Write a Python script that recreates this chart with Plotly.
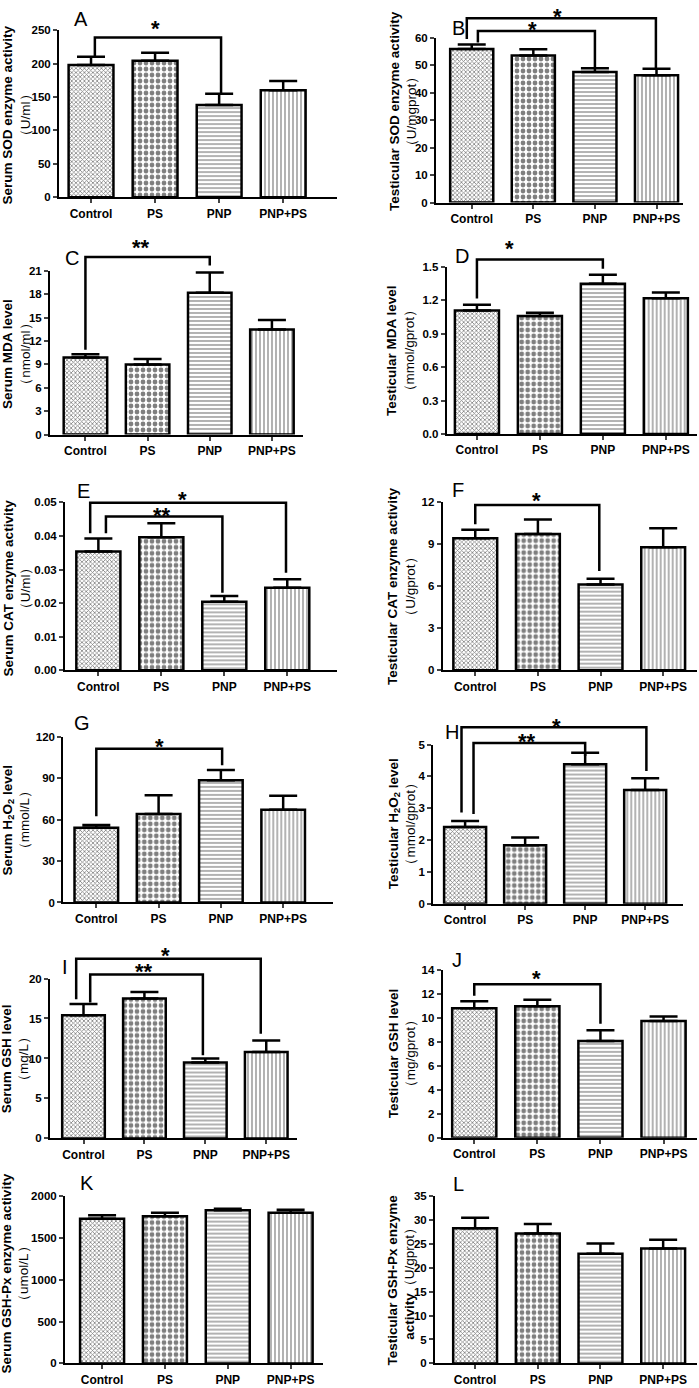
import plotly.graph_objects as go

W, H = 699, 1388
groups = ["Control", "PS", "PNP", "PNP+PS"]
xpos = [0, 1, 2, 3]

# ---- data: means and upper SEM for each panel ----
A_mean = [198, 204, 138, 160];           A_err = [12, 12, 17, 14]
B_mean = [56.0, 53.6, 47.6, 46.4];       B_err = [1.6, 2.3, 1.4, 2.4]
C_mean = [9.9, 9.0, 18.2, 13.5];         C_err = [0.4, 0.7, 2.6, 1.2]
D_mean = [1.11, 1.06, 1.35, 1.22];       D_err = [0.05, 0.03, 0.08, 0.05]
E_mean = [0.0354, 0.0396, 0.0204, 0.0246]; E_err = [0.0038, 0.0042, 0.0017, 0.0025]
F_mean = [9.4, 9.7, 6.1, 8.75];          F_err = [0.6, 1.03, 0.42, 1.36]
G_mean = [54.1, 64.2, 88.6, 67.3];       G_err = [2.1, 13.6, 7.4, 10.0]
H_mean = [2.41, 1.84, 4.38, 3.57];       H_err = [0.19, 0.24, 0.36, 0.37]
I_mean = [15.4, 17.5, 9.5, 10.8];        I_err = [1.4, 0.8, 0.5, 1.45]
J_mean = [10.8, 10.97, 8.07, 9.73];      J_err = [0.58, 0.55, 0.89, 0.39]
K_mean = [1725, 1755, 1825, 1795];       K_err = [42, 42, 18, 38]
L_mean = [28.2, 27.1, 22.9, 24.0];       L_err = [2.2, 2.0, 2.1, 1.8]

# y-axis titles (line 1, line 2)
titles = {
    "A": ("<b>Serum SOD enzyme activity</b>", "（U/ml）"),
    "B": ("<b>Testicular SOD enzyme activity</b>", "（U/mgprot）"),
    "C": ("<b>Serum MDA level</b>", "（nmol/ml）"),
    "D": ("<b>Testicular MDA level</b>", "（mmol/gprot）"),
    "E": ("<b>Serum CAT enzyme activity</b>", "（U/ml）"),
    "F": ("<b>Testicular CAT enzyme activity</b>", "（U/gprot）"),
    "G": ("<b>Serum H<sub>2</sub>O<sub>2</sub> level</b>", "（mmol/L）"),
    "H": ("<b>Testicular H<sub>2</sub>O<sub>2</sub> level</b>", "（mmol/gprot）"),
    "I": ("<b>Serum GSH level</b>", "（mg/L）"),
    "J": ("<b>Testicular GSH level</b>", "（mg/gprot）"),
    "K": ("<b>Serum GSH-Px enzyme activity</b>", "（umol/L）"),
    "L": ("<b>Testicular GSH-Px enzyme</b>", "<b>activity</b>（U/gprot）"),
}

# y-axis scale: max tick, tick step, format
yscale = {
    "A": (250, 50, "d"), "B": (60, 10, "d"), "C": (21, 3, "d"), "D": (1.5, 0.3, ".1f"),
    "E": (0.05, 0.01, ".2f"), "F": (12, 3, "d"), "G": (120, 30, "d"), "H": (5, 1, "d"),
    "I": (20, 5, "d"), "J": (14, 2, "d"), "K": (2000, 500, "d"), "L": (35, 5, "d"),
}

# significance brackets: (x_left, x_right, y_bar, y_left_end, y_right_end, label, label_x, label_y)
brackets = {
    "A": [(0.06, 2.03, 239, 210, 155, "*", 1.0, 260)],
    "B": [(-0.08, 2.99, 67.2, 59.6, 48.8, "*", 1.4, 69.5),
          (0.10, 2.0, 62.6, 58.4, 49.0, "*", 0.98, 65.1)],
    "C": [(0.0, 2.0, 22.78, 10.9, 21.7, "**", 0.9, 24.7)],
    "D": [(0.0, 2.0, 1.567, 1.217, 1.484, "*", 0.52, 1.707)],
    "E": [(-0.13, 2.98, 0.0499, 0.0408, 0.029, "*", 1.34, 0.0524),
          (0.12, 1.97, 0.0458, 0.0408, 0.0231, "**", 1.01, 0.0475)],
    "F": [(0.0, 1.98, 11.76, 10.4, 7.06, "*", 0.97, 12.42)],
    "G": [(0.0, 2.02, 111.4, 62.5, 99.4, "*", 1.02, 116.8)],
    "H": [(-0.06, 3.02, 5.54, 2.87, 4.17, "*", 1.52, 5.73),
          (0.14, 2.0, 5.05, 2.82, 4.64, "**", 1.03, 5.26)],
    "I": [(-0.12, 2.91, 22.48, 17.4, 13.1, "*", 1.35, 23.5),
          (0.11, 1.96, 20.5, 17.0, 10.4, "**", 1.0, 21.45)],
    "J": [(0.0, 2.0, 12.81, 11.85, 9.5, "*", 0.99, 13.7)],
    "K": [], "L": [],
}

means = {"A": A_mean, "B": B_mean, "C": C_mean, "D": D_mean, "E": E_mean, "F": F_mean,
         "G": G_mean, "H": H_mean, "I": I_mean, "J": J_mean, "K": K_mean, "L": L_mean}
errs = {"A": A_err, "B": B_err, "C": C_err, "D": D_err, "E": E_err, "F": F_err,
        "G": G_err, "H": H_err, "I": I_err, "J": J_err, "K": K_err, "L": L_err}

# ---- layout geometry (pixels) ----
geom = {
    "A": dict(L=59, R=337, yb=193, yt=24.3, xr=[-0.5, 3.84]),
    "B": dict(L=436, R=683, yb=198.3, yt=32.3, xr=[-0.58, 3.43]),
    "C": dict(L=50, R=303, yb=432.3, yt=267.3, xr=[-0.57, 3.5]),
    "D": dict(L=446.7, R=696.7, yb=431.7, yt=263.3, xr=[-0.48, 3.49]),
    "E": dict(L=65, R=337, yb=670, yt=500.7, xr=[-0.53, 3.79]),
    "F": dict(L=442.7, R=697, yb=670, yt=500, xr=[-0.52, 3.54]),
    "G": dict(L=63.3, R=333, yb=904.3, yt=737.3, xr=[-0.53, 3.8]),
    "H": dict(L=433.3, R=683, yb=905.7, yt=745, xr=[-0.53, 3.63]),
    "I": dict(L=50, R=296.7, yb=1142.3, yt=981, xr=[-0.55, 3.5]),
    "J": dict(L=442.7, R=697, yb=1141.7, yt=972.3, xr=[-0.5, 3.53]),
    "K": dict(L=65, R=323.3, yb=1369.3, yt=1200, xr=[-0.59, 3.52]),
    "L": dict(L=435, R=697, yb=1369.3, yt=1200, xr=[-0.64, 3.54]),
}
letter_pos = {"A": (81, 13), "B": (458, 22), "C": (72, 254), "D": (462, 252),
              "E": (83, 489), "F": (458, 488), "G": (82, 723), "H": (452, 732),
              "I": (65, 969), "J": (457, 962), "K": (87, 1187), "L": (458, 1188)}
title_pos = {"A": (16.5, 110), "B": (403, 106), "C": (17, 351), "D": (401, 348),
             "E": (17, 587.5), "F": (402, 586), "G": (16.5, 822), "H": (402.5, 825),
             "I": (15.5, 1062), "J": (402.5, 1057), "K": (15.5, 1279), "L": (401.5, 1285)}

FONT = "Liberation Sans, Arial, sans-serif"
fig = go.Figure()
layout = dict(width=W, height=H, margin=dict(l=0, r=0, t=0, b=0),
              paper_bgcolor="white", plot_bgcolor="white", showlegend=False,
              font=dict(family=FONT, color="black"))
shapes, annots = [], []

for i, key in enumerate("ABCDEFGHIJKL"):
    n = "" if i == 0 else str(i + 1)
    xa, ya = "x" + n, "y" + n
    g = geom[key]
    ymax, dt, fmt = yscale[key]
    fig.add_trace(go.Bar(
        x=xpos, y=means[key], width=0.7, xaxis=xa, yaxis=ya,
        marker=dict(color="white", line=dict(color="black", width=2.5),
                    pattern=dict(shape=["x", ".", "-", "|"], size=[3, 6, 4, 4],
                                 solidity=[0.45, 0.5, 0.3, 0.3],
                                 fgcolor="black", bgcolor="white")),
        error_y=dict(type="data", symmetric=False, array=errs[key], arrayminus=[0, 0, 0, 0],
                     color="black", thickness=2.5, width=14),
    ))
    xtickfont = dict(family=FONT, size=12, color="black", weight="bold")
    ytickfont = dict(family=FONT, size=11.5, color="black", weight="bold")
    layout["xaxis" + n] = dict(domain=[g["L"] / W, g["R"] / W], range=g["xr"], anchor=ya,
                               tickvals=xpos, ticktext=groups, ticks="outside", ticklen=4,
                               tickwidth=2, showline=True, linewidth=2, linecolor="black",
                               showgrid=False, zeroline=False, tickfont=xtickfont, fixedrange=True)
    nt = int(round(ymax / dt))
    layout["yaxis" + n] = dict(domain=[1 - g["yb"] / H, 1 - g["yt"] / H], range=[0, ymax],
                               anchor=xa, tickvals=[dt * k for k in range(nt + 1)],
                               tickformat=fmt, ticks="outside", ticklen=4, tickwidth=2,
                               showline=True, linewidth=2, linecolor="black",
                               showgrid=False, zeroline=False, tickfont=ytickfont, fixedrange=True)
    for (x0, x1, yb, yl, yr, lab, lx, ly) in brackets[key]:
        shapes.append(dict(type="path", xref=xa, yref=ya + " domain",
                           path=f"M {x0},{yl / ymax} L {x0},{yb / ymax} L {x1},{yb / ymax} L {x1},{yr / ymax}",
                           line=dict(color="black", width=2.5)))
        annots.append(dict(x=lx, y=ly / ymax, xref=xa, yref=ya + " domain", text=lab,
                           showarrow=False, xanchor="center", yanchor="middle", yshift=-5,
                           font=dict(family=FONT, size=22, color="black", weight="bold")))
    lpx, lpy = letter_pos[key]
    annots.append(dict(x=lpx / W, y=1 - lpy / H, xref="paper", yref="paper", text=key,
                       showarrow=False, xanchor="center", yanchor="middle",
                       font=dict(family=FONT, size=20, color="black")))
    tpx, tpy = title_pos[key]
    t1, t2 = titles[key]
    annots.append(dict(x=tpx / W, y=1 - tpy / H, xref="paper", yref="paper",
                       text=t1 + "<br>" + t2, textangle=-90, showarrow=False,
                       xanchor="center", yanchor="middle",
                       font=dict(family=FONT, size=13.5, color="black")))

layout["shapes"] = shapes
layout["annotations"] = annots
fig.update_layout(**layout)
fig.write_html("out.html", config={"displayModeBar": False},
               post_script="document.body.style.margin='0';document.body.style.overflow='hidden';")
